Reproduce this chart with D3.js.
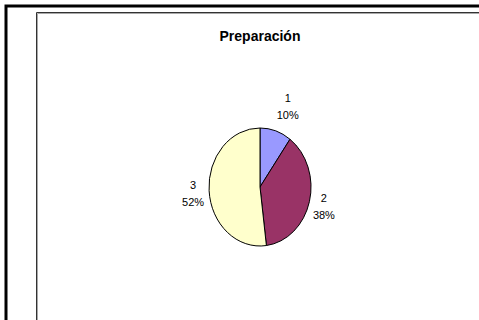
<!DOCTYPE html>
<html><head><meta charset="utf-8">
<script src="https://cdn.jsdelivr.net/npm/d3@7"></script>
<style>html,body{margin:0;padding:0;background:#fff;overflow:hidden}</style>
</head><body>
<svg id="c" width="479" height="320"></svg>
<script>
const title = "Preparación";
const categories = ["1", "2", "3"];
const values = [10, 38, 52];
const colors = ["#9999FF", "#993366", "#FFFFCC"];

const svg = d3.select("#c");
const font = "'Liberation Sans', Arial, sans-serif";

// outer frame
svg.append("path").attr("d", "M6,322 V6 H482").attr("fill", "none").attr("stroke", "#000").attr("stroke-width", 3);
// inner chart-area frame (with light shadow)
svg.append("path").attr("d", "M37.5,322 V13.5 H482").attr("fill", "none").attr("stroke", "#a8a8a8").attr("stroke-width", 1);
svg.append("path").attr("d", "M36.5,322 V12.5 H482").attr("fill", "none").attr("stroke", "#333").attr("stroke-width", 1);

svg.append("text").attr("x", 260).attr("y", 41).attr("text-anchor", "middle")
  .attr("font-family", font).attr("font-weight", "bold").attr("font-size", 14).attr("fill", "#000").text(title);

const cx = 260, cy = 187, rx = 51, ry = 59;
const total = d3.sum(values);
const pie = d3.pie().sort(null).value(d => d)(values);
const arc = d3.arc().innerRadius(0).outerRadius(ry);

const g = svg.append("g").attr("transform", `translate(${cx},${cy})`);
g.selectAll("path.s").data(pie).join("path").attr("class", "s")
  .attr("transform", `scale(${rx / ry},1)`)
  .attr("d", arc)
  .attr("fill", (d, i) => colors[i])
  .attr("stroke", "#000").attr("stroke-width", 1).attr("vector-effect", "non-scaling-stroke");

// labels placed outside the ellipse edge
const nudge = [[7, -6], [-1, 0], [0, 2]];
const hw = 10, hh = 13, gap = 6;
pie.forEach((d, i) => {
  const a = (d.startAngle + d.endAngle) / 2;
  const dx = Math.sin(a), dy = -Math.cos(a);
  const lx = cx + dx * (rx + gap + hw) + nudge[i][0];
  const ly = cy + dy * (ry + gap + hh) + nudge[i][1];
  const t = svg.append("text").attr("text-anchor", "middle")
    .attr("font-family", font).attr("font-size", 11).attr("fill", "#000");
  t.append("tspan").attr("x", lx).attr("y", ly - 4.5).text(categories[i]);
  t.append("tspan").attr("x", lx).attr("y", ly + 12.5)
    .text(Math.round(d.value / total * 100) + "%");
});
</script>
</body></html>
